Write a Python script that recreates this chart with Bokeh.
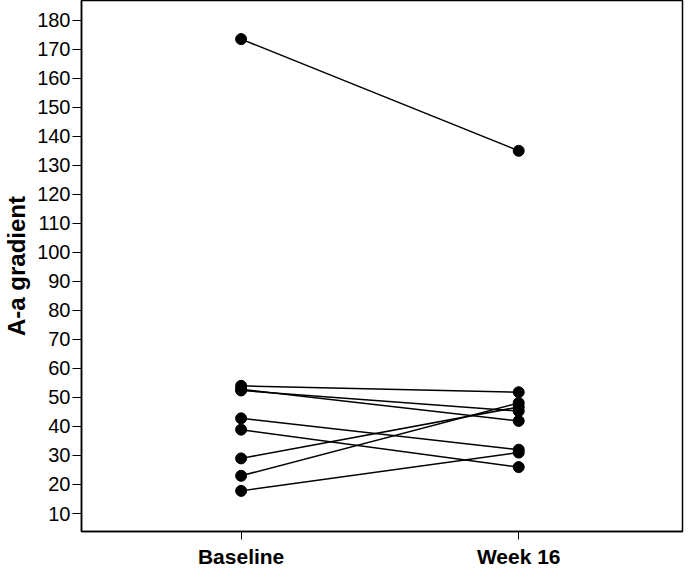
from bokeh.plotting import figure
from bokeh.models import ColumnDataSource, FixedTicker, Range1d
from bokeh.embed import file_html
from bokeh.resources import INLINE

# Data
timepoints = ["Baseline", "Week 16"]
baseline = [173.5, 54.0, 52.8, 52.4, 42.8, 38.9, 29.0, 23.0, 17.8]
week16 = [135.0, 51.8, 41.9, 45.3, 32.0, 26.0, 46.7, 48.1, 31.0]
y_ticks = list(range(10, 181, 10))

xpos = [1, 2]
src = ColumnDataSource(dict(
    x0=[xpos[0]] * len(baseline), x1=[xpos[1]] * len(week16),
    y0=baseline, y1=week16,
))

p = figure(width=684, height=570, output_backend="svg", toolbar_location=None,
           x_range=Range1d(0.425, 2.59), y_range=Range1d(3.8, 186.8),
           min_border_left=79, min_border_right=2, min_border_top=0, min_border_bottom=33)

p.segment(x0="x0", y0="y0", x1="x1", y1="y1", source=src, line_color="black", line_width=1.5)
p.scatter(x=[xpos[0]] * len(baseline), y=baseline, size=11, color="black")
p.scatter(x=[xpos[1]] * len(week16), y=week16, size=11, color="black")

p.xgrid.visible = False
p.ygrid.visible = False
p.outline_line_color = "black"
p.outline_line_width = 1.5
p.outline_line_alpha = 1
p.background_fill_color = "white"
p.border_fill_color = "white"

xa = p.xaxis[0]
xa.ticker = FixedTicker(ticks=xpos)
xa.major_label_overrides = {xpos[i]: timepoints[i] for i in range(2)}
xa.major_label_text_font = "Liberation Sans"
xa.major_label_text_font_style = "bold"
xa.major_label_text_font_size = "21px"
xa.major_label_text_color = "black"
xa.major_tick_out = 8
xa.major_tick_in = 0
xa.minor_tick_line_color = None
xa.axis_line_color = "black"
xa.axis_line_width = 1.5
xa.major_tick_line_color = "black"
xa.major_label_standoff = 5

ya = p.yaxis[0]
ya.ticker = FixedTicker(ticks=y_ticks)
ya.major_label_text_font = "Liberation Sans"
ya.major_label_text_font_size = "20px"
ya.major_label_text_color = "black"
ya.major_tick_out = 9
ya.major_tick_in = 0
ya.minor_tick_line_color = None
ya.axis_line_color = "black"
ya.axis_line_width = 1.5
ya.major_tick_line_color = "black"
ya.major_label_standoff = 2
ya.axis_label = "A-a gradient"
ya.axis_label_text_font = "Liberation Sans"
ya.axis_label_text_font_style = "bold"
ya.axis_label_text_font_size = "24px"
ya.axis_label_text_color = "black"
ya.axis_label_standoff = 4

open("out.html", "w").write(file_html(p, INLINE))
